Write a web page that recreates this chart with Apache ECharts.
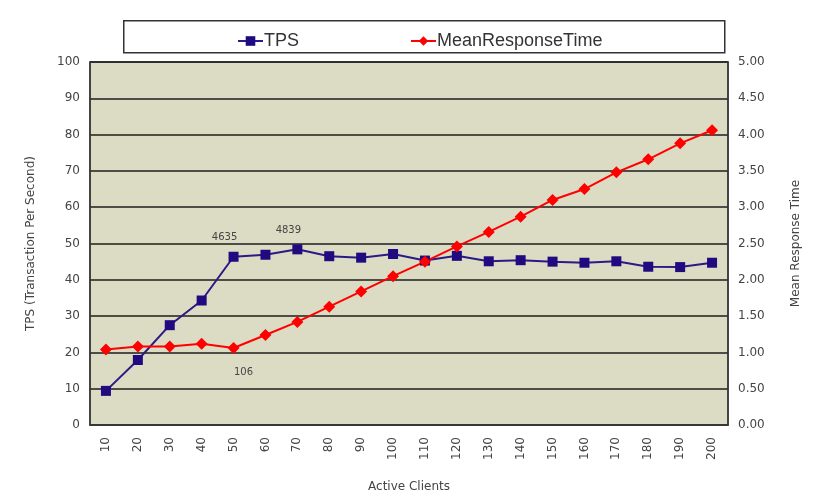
<!DOCTYPE html>
<html>
<head>
<meta charset="utf-8">
<script src="https://cdn.jsdelivr.net/npm/echarts@6/dist/echarts.min.js"></script>
<style>html,body{margin:0;padding:0;background:#fff}#c{width:817px;height:504px}</style>
</head>
<body>
<div id="c"></div>
<script>
var categories = ['10','20','30','40','50','60','70','80','90','100','110','120','130','140','150','160','170','180','190','200'];
var tpsValues = [9.4, 17.9, 27.5, 34.3, 46.35, 46.9, 48.39, 46.5, 46.1, 47.1, 45.3, 46.6, 45.1, 45.4, 45.0, 44.7, 45.1, 43.6, 43.5, 44.7];
var mrtValues = [1.04, 1.08, 1.08, 1.12, 1.06, 1.24, 1.42, 1.63, 1.84, 2.05, 2.25, 2.46, 2.66, 2.87, 3.10, 3.25, 3.48, 3.66, 3.88, 4.06];
var tpsLabelIdx = [4, 6];
var mrtLabelIdx = [4];
var leftTicks = {min: 0, max: 100, interval: 10};
var rightTicks = {min: 0, max: 5, interval: 0.5};

var FONT = 'DejaVu Sans';
var LFONT = 'Liberation Sans';
var TXT = '#444444';
function noDot(v){ return String(v).replace('.', ''); }

function withLabels(vals, idxs, pos, offset){
  return vals.map(function(v, i){
    if (idxs.indexOf(i) >= 0) {
      return {value: v, label: {show: true, position: pos, offset: offset, formatter: function(p){ return noDot(p.value); },
        color: TXT, fontSize: 10, fontFamily: FONT}};
    }
    return v;
  });
}

var chart = echarts.init(document.getElementById('c'), null, {renderer: 'canvas'});
chart.setOption({
  animation: false,
  backgroundColor: '#ffffff',
  textStyle: {fontFamily: FONT},
  graphic: [{
    type: 'rect', left: 123, top: 20, shape: {width: 601, height: 32},
    style: {fill: '#fff', stroke: '#333', lineWidth: 1.5}, z: 0
  }],
  legend: {
    left: 232, top: 27, itemGap: 111, itemWidth: 25, itemHeight: 12,
    textStyle: {fontSize: 18, color: '#333', fontFamily: LFONT, padding: [1,0,0,-4]},
    data: ['TPS', 'MeanResponseTime'], z: 5
  },
  grid: {left: 90, right: 89, top: 62, bottom: 79, show: true, backgroundColor: '#dcdcc4', borderColor: '#3a3a3a', borderWidth: 1.5},
  xAxis: {
    type: 'category', data: categories, boundaryGap: true,
    name: 'Active Clients', nameLocation: 'middle', nameGap: 56,
    nameTextStyle: {fontSize: 12, color: TXT, fontFamily: FONT},
    axisLine: {lineStyle: {color: '#3a3a3a', width: 1.5}},
    axisTick: {inside: true, length: 4, lineStyle: {color: '#3a3a3a', width: 1.5}},
    axisLabel: {rotate: 90, margin: 12, fontSize: 12, color: TXT, fontFamily: FONT},
    splitLine: {show: false}
  },
  yAxis: [{
    type: 'value', position: 'left', min: leftTicks.min, max: leftTicks.max, interval: leftTicks.interval,
    name: 'TPS (Transaction Per Second)', nameLocation: 'middle', nameGap: 53, nameRotate: 90,
    nameTextStyle: {fontSize: 12, color: TXT, fontFamily: FONT},
    axisLine: {show: true, lineStyle: {color: '#3a3a3a', width: 1.5}},
    axisTick: {show: false},
    axisLabel: {margin: 10, fontSize: 12, color: TXT, fontFamily: FONT},
    splitLine: {show: true, lineStyle: {color: '#1e1e1e', width: 1.5}}
  }, {
    type: 'value', position: 'right', min: rightTicks.min, max: rightTicks.max, interval: rightTicks.interval,
    name: 'Mean Response Time', nameLocation: 'middle', nameGap: 62, nameRotate: 90,
    nameTextStyle: {fontSize: 12, color: TXT, fontFamily: FONT},
    axisLine: {show: true, lineStyle: {color: '#3a3a3a', width: 1.5}},
    axisTick: {show: false},
    axisLabel: {margin: 10, fontSize: 12, color: TXT, fontFamily: FONT, formatter: function(v){ return v.toFixed(2); }},
    splitLine: {show: false}
  }],
  series: [{
    name: 'TPS', type: 'line', yAxisIndex: 0,
    data: withLabels(tpsValues, tpsLabelIdx, 'top', [-9, -4]),
    symbol: 'rect', symbolSize: 10, showAllSymbol: true,
    lineStyle: {color: '#2a1a85', width: 2},
    itemStyle: {color: '#1f0a80'}, z: 3
  }, {
    name: 'MeanResponseTime', type: 'line', yAxisIndex: 1,
    data: withLabels(mrtValues, mrtLabelIdx, 'bottom', [10, 8]),
    symbol: 'diamond', symbolSize: 12, showAllSymbol: true,
    lineStyle: {color: '#ff0000', width: 2},
    itemStyle: {color: '#ff0000'}, z: 3
  }]
});
</script>
</body>
</html>
